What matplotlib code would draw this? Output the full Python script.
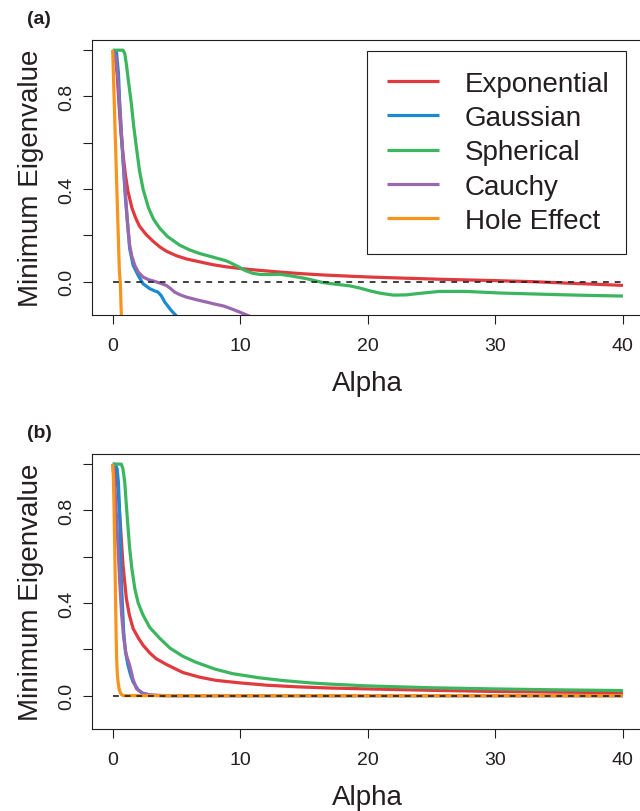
import matplotlib.pyplot as plt

plt.rcParams['font.family'] = ['Liberation Sans', 'DejaVu Sans']

INK = '#231f20'
colors = {'Exponential': '#e0393e', 'Gaussian': '#1b8ad3', 'Spherical': '#3cb55f',
          'Cauchy': '#9a68ae', 'Hole Effect': '#f7941d'}
series_names = ['Exponential', 'Gaussian', 'Spherical', 'Cauchy', 'Hole Effect']

# ---- panel (a) ----
a_exp_x = [0, 0.2, 0.35, 0.5, 0.65, 0.81, 1.0, 1.2, 1.5, 1.8, 2.1, 2.6, 3.16, 3.7, 4.2, 5.0, 5.8, 6.8,
           7.8, 8.8, 10.0, 11.3, 13.0, 14.7, 16.5, 18.5, 20.2, 23.0, 26.0, 29.8, 33.0, 36.0, 40.0]
a_exp_y = [1.0, 0.98, 0.9, 0.76, 0.64, 0.55, 0.46, 0.39, 0.32, 0.275, 0.24, 0.205, 0.175, 0.15, 0.132,
           0.112, 0.098, 0.086, 0.074, 0.065, 0.057, 0.05, 0.042, 0.035, 0.029, 0.024, 0.02, 0.015, 0.01,
           0.005, 0.0, -0.007, -0.016]

a_gau_x = [0, 0.3, 0.45, 0.55, 0.68, 0.81, 1.0, 1.2, 1.33, 1.6, 2.0, 2.38, 2.9, 3.3, 3.55, 3.8, 4.08,
           4.6, 5.1, 5.4]
a_gau_y = [1.0, 0.99, 0.9, 0.77, 0.64, 0.52, 0.36, 0.23, 0.143, 0.071, 0.027, -0.009, -0.03, -0.04,
           -0.045, -0.06, -0.088, -0.125, -0.154, -0.17]

a_sph_x = [0, 0.5, 0.81, 0.95, 1.07, 1.25, 1.46, 1.65, 1.86, 2.1, 2.38, 2.8, 3.2, 3.7, 4.3, 5.25, 6.0,
           6.8, 7.6, 8.4, 8.9, 9.3, 9.8, 10.4, 11.0, 11.6, 12.3, 13.1, 14.0, 15.2, 16.5, 17.5, 18.6,
           19.4, 20.2, 21.0, 22.0, 23.0, 23.8, 25.6, 27.7, 30.4, 33.0, 35.6, 38.0, 40.0]
a_sph_y = [1.0, 1.0, 1.0, 0.985, 0.94, 0.86, 0.77, 0.67, 0.58, 0.48, 0.40, 0.32, 0.27, 0.23, 0.195,
           0.158, 0.138, 0.122, 0.11, 0.098, 0.09, 0.08, 0.066, 0.048, 0.036, 0.031, 0.031, 0.032,
           0.025, 0.013, -0.004, -0.011, -0.018, -0.028, -0.04, -0.05, -0.058, -0.057, -0.052,
           -0.042, -0.042, -0.049, -0.053, -0.057, -0.06, -0.062]

a_cau_x = [0, 0.25, 0.4, 0.55, 0.7, 0.85, 1.0, 1.15, 1.33, 1.5, 1.73, 2.0, 2.38, 2.8, 3.3, 3.8, 4.2,
           4.5, 4.86, 5.3, 5.8, 6.8, 7.5, 8.1, 8.7, 9.2, 9.9, 10.6, 11.0]
a_cau_y = [1.0, 0.97, 0.88, 0.76, 0.63, 0.5, 0.38, 0.26, 0.158, 0.11, 0.071, 0.042, 0.02, 0.009,
           0.001, -0.008, -0.016, -0.028, -0.045, -0.057, -0.067, -0.081, -0.09, -0.098, -0.105,
           -0.115, -0.13, -0.146, -0.155]

a_hol_x = [0, 0.2, 0.42, 0.52, 0.56, 0.6, 0.64, 0.68, 0.72]
a_hol_y = [1.0, 0.63, 0.23, 0.05, 0.02, -0.01, -0.08, -0.15, -0.22]

# ---- panel (b) ----
b_exp_x = [0, 0.2, 0.4, 0.6, 0.81, 1.07, 1.3, 1.6, 2.0, 2.38, 2.9, 3.4, 4.2, 5.5, 6.8, 8.1, 10, 12.1,
           14.5, 17, 20, 25, 30, 35, 40]
b_exp_y = [1.0, 0.98, 0.9, 0.74, 0.564, 0.42, 0.35, 0.29, 0.25, 0.218, 0.185, 0.16, 0.135, 0.1, 0.08,
           0.066, 0.055, 0.045, 0.038, 0.033, 0.029, 0.023, 0.018, 0.015, 0.013]

b_gau_x = [0, 0.2, 0.35, 0.45, 0.55, 0.68, 0.86, 1.0, 1.2, 1.4, 1.6, 2.0, 2.38, 3.0, 4.0, 40]
b_gau_y = [1.0, 1.0, 0.98, 0.92, 0.78, 0.49, 0.276, 0.19, 0.131, 0.09, 0.059, 0.025, 0.009, 0.002, 0.0, 0.0]

b_sph_x = [0, 0.5, 0.68, 0.8, 0.94, 1.1, 1.33, 1.5, 1.73, 2.0, 2.38, 2.9, 3.7, 4.5, 5.5, 6.5, 8.0, 9.4,
           11.5, 13.4, 15.5, 17, 20, 25, 30, 35, 40]
b_sph_y = [1.0, 1.0, 1.0, 0.98, 0.925, 0.8, 0.636, 0.55, 0.463, 0.4, 0.348, 0.295, 0.247, 0.205, 0.17,
           0.145, 0.115, 0.095, 0.077, 0.065, 0.055, 0.05, 0.042, 0.034, 0.029, 0.025, 0.022]

b_cau_x = [0, 0.15, 0.29, 0.42, 0.55, 0.7, 0.86, 1.05, 1.33, 1.6, 1.86, 2.3, 2.9, 3.5, 4.5, 40]
b_cau_y = [1.0, 0.92, 0.78, 0.64, 0.49, 0.35, 0.25, 0.18, 0.131, 0.07, 0.03, 0.012, 0.003, 0.001, 0.0, 0.0]

b_hol_x = [0, 0.05, 0.1, 0.16, 0.22, 0.27, 0.31, 0.36, 0.42, 0.5, 0.6, 0.7, 0.85, 40]
b_hol_y = [1.0, 0.95, 0.83, 0.64, 0.43, 0.26, 0.16, 0.095, 0.059, 0.03, 0.012, 0.004, 0.0, 0.0]

ref_x = [0, 40]
ref_y = [0, 0]
x_ticks = [0, 10, 20, 30, 40]
y_ticks = [0.0, 0.2, 0.4, 0.6, 0.8, 1.0]
y_ticklabels = ['0.0', '', '0.4', '', '0.8', '']

panels = {
    '(a)': [(a_exp_x, a_exp_y), (a_gau_x, a_gau_y), (a_sph_x, a_sph_y), (a_cau_x, a_cau_y), (a_hol_x, a_hol_y)],
    '(b)': [(b_exp_x, b_exp_y), (b_gau_x, b_gau_y), (b_sph_x, b_sph_y), (b_cau_x, b_cau_y), (b_hol_x, b_hol_y)],
}

fig = plt.figure(figsize=(6.4, 8.12), dpi=100)
axes_pos = {'(a)': [0.1442, 0.6108, 0.861, 0.3387], '(b)': [0.1442, 0.101, 0.861, 0.3387]}
tag_y = {'(a)': 1 - 19 / 812, '(b)': 1 - 433 / 812}

for tag, curves in panels.items():
    ax = fig.add_axes(axes_pos[tag])
    for name, (xs, ys) in zip(series_names, curves):
        ax.plot(xs, ys, color=colors[name], lw=2.3, label=name, solid_capstyle='butt')
    ax.plot(ref_x, ref_y, color=INK, lw=1.2, dashes=(3.5, 3.5), zorder=5)

    ax.set_xlim(-1.6, 41.6)
    ax.set_ylim(-0.144, 1.044)
    ax.set_xticks(x_ticks)
    ax.set_xticklabels([str(t) for t in x_ticks])
    ax.set_yticks(y_ticks)
    ax.set_yticklabels(y_ticklabels, rotation=90, va='center')
    ax.tick_params(axis='both', direction='out', length=6.5, width=0.8, color=INK,
                   labelcolor=INK, labelsize=14)
    ax.tick_params(axis='x', pad=9)
    ax.tick_params(axis='y', pad=6)
    for sp in ax.spines.values():
        sp.set_color(INK)
        sp.set_linewidth(0.8)

    ax.set_xlabel('Alpha', fontsize=20, color=INK)
    ax.xaxis.set_label_coords(0.5, -0.2)
    ax.set_ylabel('Minimum Eigenvalue', fontsize=20, color=INK)
    ax.yaxis.set_label_coords(-0.087, 0.5)

    fig.text(27 / 640, tag_y[tag], tag, fontsize=14, fontweight='bold', color=INK,
             ha='left', va='center')

    if tag == '(a)':
        # fixed-width box (expand mode) so the right margin matches the original
        leg = ax.legend(loc='upper left', bbox_to_anchor=(0.499, 0.234, 0.469, 0.727),
                        mode='expand', borderaxespad=0,
                        fontsize=20, handlelength=1.85, handletextpad=0.95,
                        labelspacing=0.3, borderpad=0.72, fancybox=False, framealpha=1)
        leg.get_frame().set_edgecolor(INK)
        leg.get_frame().set_linewidth(0.8)
        for t in leg.get_texts():
            t.set_color(INK)

fig.savefig('out.png', dpi=100)
